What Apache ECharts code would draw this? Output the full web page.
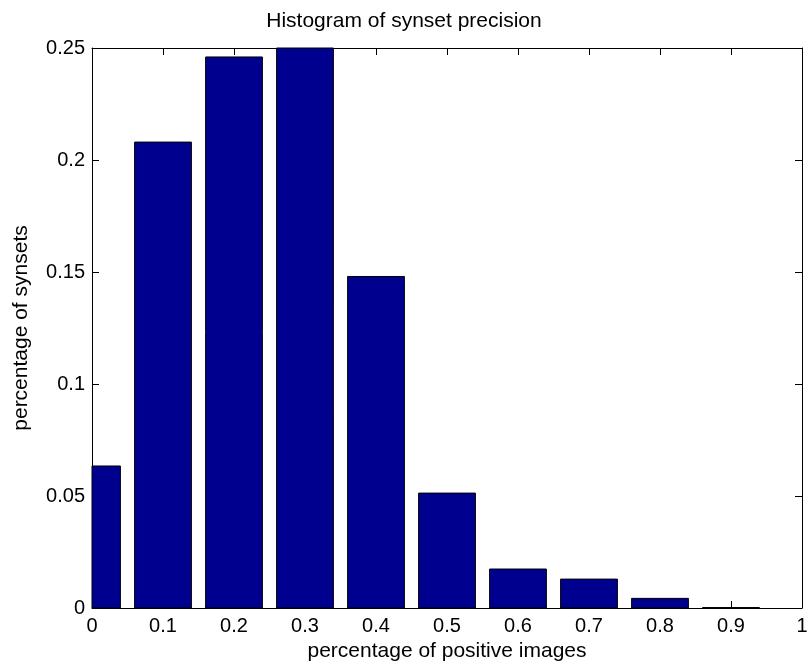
<!DOCTYPE html>
<html>
<head>
<meta charset="utf-8">
<script src="https://cdn.jsdelivr.net/npm/echarts@6/dist/echarts.min.js"></script>
<style>
  html, body { margin: 0; padding: 0; background: #ffffff; }
  #hist { width: 808px; height: 664px; }
</style>
</head>
<body>
<div id="hist"></div>
<script>
// bin centres and fraction of synsets in each bin
var binCenters = [0, 0.1, 0.2, 0.3, 0.4, 0.5, 0.6, 0.7, 0.8, 0.9];
var binValues = [0.0634, 0.208, 0.246, 0.25, 0.148, 0.0513, 0.0174, 0.0129, 0.0043, 0.0002];
var binWidth = 0.08;
var xTicks = { min: 0, max: 1, interval: 0.1 };
var yTicks = { min: 0, max: 0.25, interval: 0.05 };

var font = 'Liberation Sans, Arial, sans-serif';
var data = [];
for (var i = 0; i < binCenters.length; i++) {
    data.push([binCenters[i], binValues[i]]);
}

// one rect per bin, clipped to the plot box like matlab does
function renderBin(params, api) {
    var x = api.value(0);
    var y = api.value(1);
    var p0 = api.coord([x - binWidth / 2, y]);
    var p1 = api.coord([x + binWidth / 2, 0]);
    var rect = echarts.graphic.clipRectByRect({
        x: p0[0],
        y: p0[1],
        width: p1[0] - p0[0],
        height: p1[1] - p0[1]
    }, {
        x: params.coordSys.x,
        y: params.coordSys.y,
        width: params.coordSys.width,
        height: params.coordSys.height
    });
    if (!rect) return;
    return {
        type: 'rect',
        shape: rect,
        style: {
            fill: '#00008F',
            stroke: '#000000',
            lineWidth: 1
        }
    };
}

function boxAxis(extra) {
    var ax = {
        type: 'value',
        axisLine: { show: true, onZero: false, lineStyle: { color: '#000000', width: 1 } },
        axisTick: { show: true, inside: true, length: 7, lineStyle: { color: '#000000' } },
        axisLabel: { show: false },
        splitLine: { show: false }
    };
    for (var k in extra) ax[k] = extra[k];
    return ax;
}

var myChart = echarts.init(document.getElementById('hist'));
var option = {
    animation: false,
    backgroundColor: '#ffffff',
    title: {
        text: 'Histogram of synset precision',
        left: 'center',
        top: 6,
        textStyle: {
            color: '#000000',
            fontFamily: font,
            fontSize: 21,
            fontWeight: 'normal'
        }
    },
    grid: {
        left: 92,
        right: 6,
        top: 48,
        bottom: 56,
        outerBoundsMode: 'none'
    },
    xAxis: [
        boxAxis({
            min: xTicks.min,
            max: xTicks.max,
            interval: xTicks.interval,
            name: 'percentage of positive images',
            nameLocation: 'middle',
            nameGap: 33,
            nameTextStyle: { color: '#000000', fontFamily: font, fontSize: 21 },
            axisLabel: { show: true, color: '#000000', fontFamily: font, fontSize: 20, margin: 8 }
        }),
        boxAxis({
            position: 'top',
            min: xTicks.min,
            max: xTicks.max,
            interval: xTicks.interval
        })
    ],
    yAxis: [
        boxAxis({
            min: yTicks.min,
            max: yTicks.max,
            interval: yTicks.interval,
            name: 'percentage of synsets',
            nameLocation: 'middle',
            nameGap: 60,
            nameTextStyle: { color: '#000000', fontFamily: font, fontSize: 21 },
            axisLabel: { show: true, color: '#000000', fontFamily: font, fontSize: 20, margin: 7 }
        }),
        boxAxis({
            position: 'right',
            min: yTicks.min,
            max: yTicks.max,
            interval: yTicks.interval
        })
    ],
    series: [{
        type: 'custom',
        xAxisIndex: 0,
        yAxisIndex: 0,
        renderItem: renderBin,
        encode: { x: 0, y: 1 },
        data: data
    }]
};
myChart.setOption(option);
</script>
</body>
</html>
